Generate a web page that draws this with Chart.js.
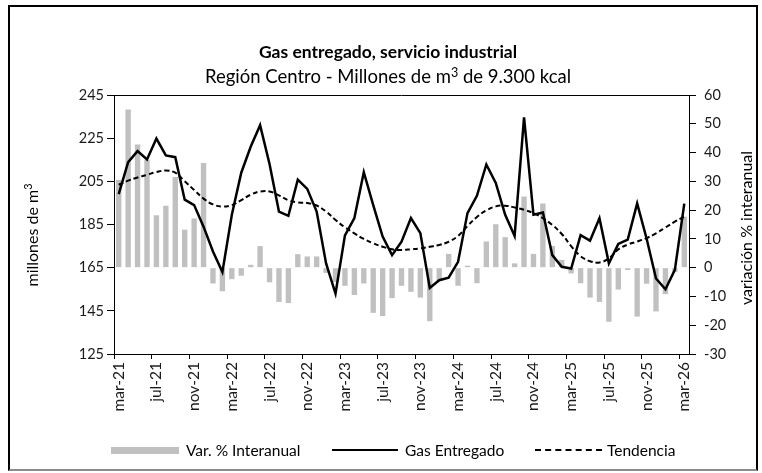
<!DOCTYPE html>
<html>
<head>
<meta charset="utf-8">
<script src="https://cdn.jsdelivr.net/npm/chart.js@4.4.1/dist/chart.umd.min.js"></script>
<style>
  html, body { margin: 0; padding: 0; background: #fff; }
  #wrap { position: relative; width: 762px; height: 473px; overflow: hidden; font-family: Lato, "Open Sans", sans-serif; color: #000; }
  #frame { position: absolute; left: 8px; top: 5px; width: 746px; height: 462px; border: 2px solid #000; border-bottom-color: #8c8c8c; box-sizing: content-box; }
  canvas { position: absolute; left: 0; top: 0; }
  .t1 { position: absolute; left: 0; width: 776px; top: 41px; text-align: center; font-weight: bold; font-size: 17.5px; line-height: 22px; }
  .t2 { position: absolute; left: 0; width: 776px; top: 64px; text-align: center; font-size: 18.5px; line-height: 24px; }
  .ytl { position: absolute; left: 31px; top: 235px; transform: translate(-50%, -50%) rotate(-90deg); white-space: nowrap; font-size: 16px; }
  .ytr { position: absolute; left: 745px; top: 228px; transform: translate(-50%, -50%) rotate(-90deg); white-space: nowrap; font-size: 16px; }
  .leg { position: absolute; top: 440px; font-size: 15.5px; white-space: nowrap; line-height: 20px; }
  .sw { position: absolute; }
  .sup { font-size: 0.68em; vertical-align: 0.5em; line-height: 0; }
</style>
</head>
<body>
<div id="wrap">
  <canvas id="c" width="762" height="473"></canvas>
  <div id="frame"></div>
  <div class="t1">Gas entregado, servicio industrial</div>
  <div class="t2">Región Centro - Millones de m<span class="sup">3</span> de 9.300 kcal</div>
  <div class="ytl">millones de m<span class="sup">3</span></div>
  <div class="ytr">variación % interanual</div>
  <div class="sw" style="left:111px; top:447px; width:68px; height:7px; background:#c0c0c0;"></div>
  <div class="leg" style="left:186px;">Var. % Interanual</div>
  <div class="sw" style="left:332px; top:449px; width:66px; height:0; border-top:2px solid #000;"></div>
  <div class="leg" style="left:405px;">Gas Entregado</div>
  <div class="sw" style="left:535px; top:449px; width:67px; height:0; border-top:2px dashed #000;"></div>
  <div class="leg" style="left:607px;">Tendencia</div>
</div>
<script>
const categories = [
  "mar-21","abr-21","may-21","jun-21","jul-21","ago-21","sep-21","oct-21","nov-21","dic-21","ene-22","feb-22",
  "mar-22","abr-22","may-22","jun-22","jul-22","ago-22","sep-22","oct-22","nov-22","dic-22","ene-23","feb-23",
  "mar-23","abr-23","may-23","jun-23","jul-23","ago-23","sep-23","oct-23","nov-23","dic-23","ene-24","feb-24",
  "mar-24","abr-24","may-24","jun-24","jul-24","ago-24","sep-24","oct-24","nov-24","dic-24","ene-25","feb-25",
  "mar-25","abr-25","may-25","jun-25","jul-25","ago-25","sep-25","oct-25","nov-25","dic-25","ene-26","feb-26",
  "mar-26"
];
const gasEntregado = [
  199.1, 213.9, 219.0, 215.1, 224.8, 217.0, 216.2, 196.5, 194.0, 184.0, 172.5, 163.0,
  189.5, 209.0, 221.0, 231.0, 213.0, 191.0, 189.0, 205.8, 201.5, 191.0, 167.0, 153.0,
  180.0, 188.0, 209.2, 194.0, 179.4, 170.8, 177.0, 188.0, 181.0, 155.6, 159.2, 160.4,
  167.7, 190.3, 198.3, 212.8, 204.3, 189.5, 179.7, 234.6, 189.5, 190.6, 170.8, 165.4,
  164.6, 180.1, 177.5, 187.9, 167.0, 176.0, 178.0, 194.8, 178.5, 160.0, 155.0, 164.0,
  194.7
];
const tendencia = [
  203.4, 205.3, 206.8, 208.0, 209.3, 210.0, 209.0, 205.0, 201.0, 197.0, 194.3, 193.3,
  194.0, 196.3, 198.8, 200.3, 200.3, 198.5, 196.2, 195.2, 195.0, 193.8, 191.0, 187.1,
  183.7, 180.9, 178.3, 176.3, 174.7, 173.5, 173.2, 173.5, 173.9, 174.7, 175.5, 177.0,
  179.7, 184.3, 188.5, 191.5, 193.4, 193.7, 192.9, 191.8, 190.3, 187.9, 184.8, 180.6,
  175.0, 170.3, 168.0, 167.4, 169.3, 173.5, 175.7, 177.1, 178.7, 180.9, 183.6, 186.3,
  188.7
];
const varInteranual = [
  30.5, 55.0, 42.8, 37.5, 18.2, 21.5, 31.5, 13.2, 17.1, 36.4, -5.5, -8.2,
  -4.0, -2.8, 1.0, 7.5, -5.1, -11.9, -12.3, 4.7, 3.9, 3.9, -1.8, -5.0,
  -6.3, -9.5, -5.5, -15.7, -16.8, -10.6, -6.3, -8.4, -10.4, -18.6, -4.6, 4.8,
  -6.3, 0.7, -5.4, 9.1, 15.1, 10.6, 1.5, 24.7, 4.8, 22.3, 7.5, 2.7,
  -2.0, -5.4, -10.4, -11.9, -18.8, -7.6, -0.8, -17.0, -5.6, -15.2, -9.2, -1.5,
  17.7
];
const leftTicks = { min: 125, max: 245, step: 20 };
const rightTicks = { min: -30, max: 60, step: 10 };

Chart.defaults.font.family = "Lato, 'Open Sans', sans-serif";
Chart.defaults.color = "#1a1a1a";

const topLine = {
  id: 'topLine',
  afterDraw(chart) {
    const a = chart.chartArea, ctx = chart.ctx;
    ctx.save();
    ctx.strokeStyle = '#000';
    ctx.lineWidth = 1;
    ctx.beginPath();
    ctx.moveTo(a.left, Math.round(a.top) + 0.5);
    ctx.lineTo(a.right, Math.round(a.top) + 0.5);
    ctx.stroke();
    ctx.restore();
  }
};

new Chart(document.getElementById('c'), {
  type: 'bar',
  data: {
    labels: categories,
    datasets: [
      { type: 'line', label: 'Gas Entregado', data: gasEntregado, yAxisID: 'y', borderColor: '#000', borderWidth: 2.5, pointRadius: 0, tension: 0, order: 1 },
      { type: 'line', label: 'Tendencia', data: tendencia, yAxisID: 'y', borderColor: '#000', borderWidth: 2, borderDash: [5, 3], pointRadius: 0, tension: 0.4, order: 2 },
      { type: 'bar', label: 'Var. % Interanual', data: varInteranual, yAxisID: 'y1', backgroundColor: '#c0c0c0', categoryPercentage: 1, barPercentage: 0.57, order: 3 }
    ]
  },
  options: {
    responsive: false,
    animation: false,
    devicePixelRatio: 1,
    layout: { padding: { top: 95, bottom: 0, left: 0, right: 0 } },
    plugins: { legend: { display: false }, title: { display: false }, tooltip: { enabled: false } },
    scales: {
      x: {
        offset: true,
        border: { display: true, color: '#000', width: 1 },
        grid: {
          display: true, drawOnChartArea: false, drawTicks: true, tickLength: 5, offset: true,
          color: (ctx) => (ctx.index % 4 === 0 ? '#000' : 'rgba(0,0,0,0)')
        },
        ticks: {
          autoSkip: false, maxRotation: 90, minRotation: 90, padding: 3,
          font: { size: 15.5 },
          callback: function (value, index) { return index % 4 === 0 ? this.getLabelForValue(value) : ''; }
        },
        afterFit: (s) => { s.height = 119; }
      },
      y: {
        position: 'left',
        min: leftTicks.min, max: leftTicks.max,
        border: { display: true, color: '#000', width: 1 },
        grid: { display: true, drawOnChartArea: false, drawTicks: true, tickLength: 7, color: '#000' },
        ticks: { stepSize: leftTicks.step, padding: 3, font: { size: 14.5 } },
        afterFit: (s) => { s.width = 114; }
      },
      y1: {
        position: 'right',
        min: rightTicks.min, max: rightTicks.max,
        border: { display: true, color: '#000', width: 1 },
        grid: { display: true, drawOnChartArea: false, drawTicks: true, tickLength: 7, color: '#000' },
        ticks: { stepSize: rightTicks.step, padding: 8, font: { size: 14.5 } },
        afterFit: (s) => { s.width = 73; }
      }
    }
  },
  plugins: [topLine]
});
</script>
</body>
</html>
